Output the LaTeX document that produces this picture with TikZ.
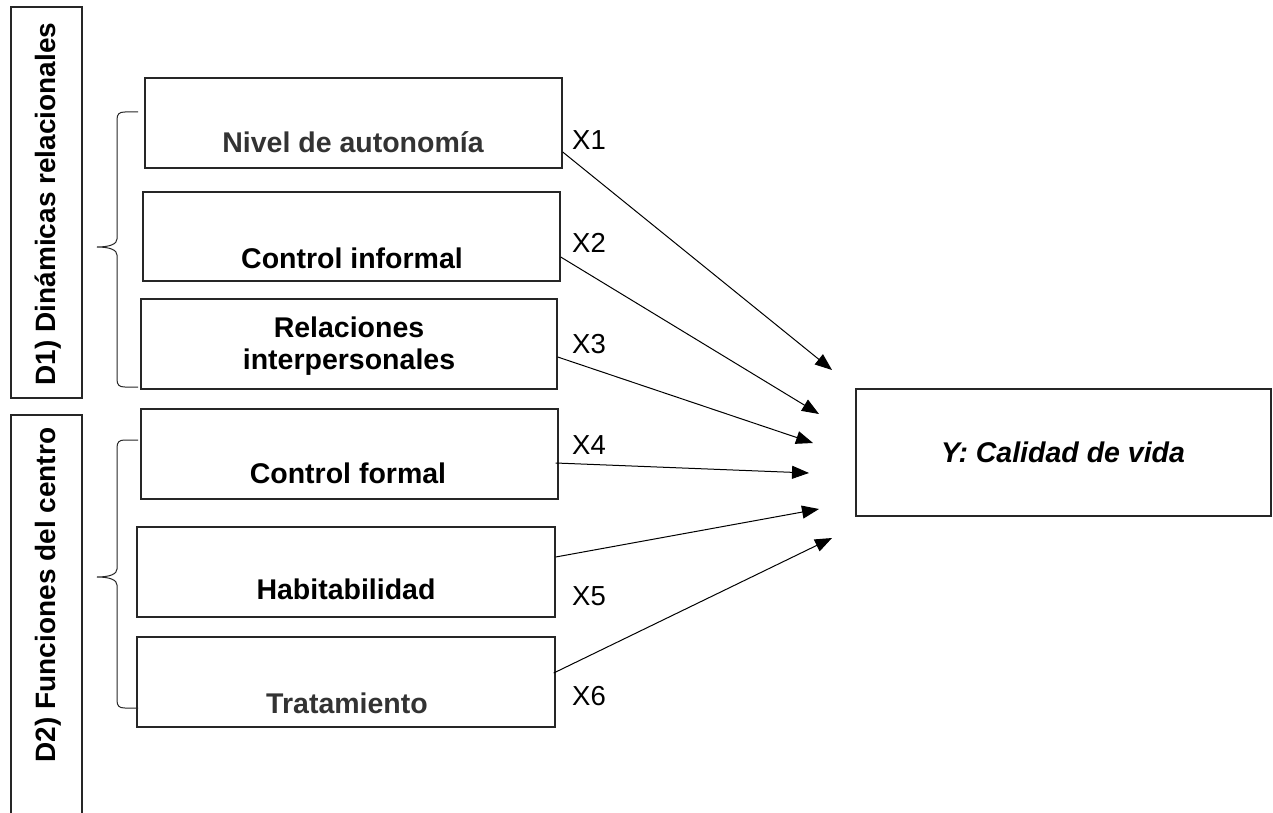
\documentclass[tikz,border=0pt]{standalone}
\usepackage{fontspec}
\setmainfont{Liberation Sans}
\usetikzlibrary{arrows.meta}
\begin{document}
\begin{tikzpicture}[x=1pt,y=-1pt,
  varbox/.style={draw=black!85,line width=1.4pt,rectangle,inner sep=0pt,minimum width=417pt,minimum height=90pt},
  dimbox/.style={draw=black!85,line width=1.4pt},
  boxtext/.style={font=\fontsize{28.5}{32}\selectfont\bfseries,inner sep=0pt,anchor=base,align=center},
  xlabel/.style={font=\fontsize{27.5}{30}\selectfont,inner sep=0pt,anchor=base west},
  dimtext/.style={font=\fontsize{28}{30}\selectfont\bfseries,inner sep=0pt,rotate=90},
  link/.style={line width=1pt,-{Triangle[length=17pt,width=13pt]}},
  bracestyle/.style={line width=1pt,black!85}]
\useasboundingbox (0,0) rectangle (1273,813);

% dimension boxes
\node[dimbox,minimum width=71pt,minimum height=391pt,inner sep=0pt] (d1) at (46.5,202.5) {};
\node[dimtext] (d1t) at (48,204) {D1) Dinámicas relacionales};
\draw[dimbox] (11,830) -- (11,415) -- (82,415) -- (82,830);
\coordinate (d2) at (46.5,600);
\node[dimtext] (d2t) at (48,595) {D2) Funciones del centro};

% braces
\draw[bracestyle] (138,112) -- (125,112) .. controls (119,112) and (117,114) .. (117,120) -- (117,239)
  .. controls (117,244) and (110,247) .. (97,247) .. controls (110,247) and (117,250) .. (117,255)
  -- (117,379) .. controls (117,385) and (119,387) .. (125,387) -- (138,387);
\draw[bracestyle] (138,440) -- (125,440) .. controls (119,440) and (117,442) .. (117,448) -- (117,569)
  .. controls (117,574) and (110,577) .. (97,577) .. controls (110,577) and (117,580) .. (117,585)
  -- (117,700) .. controls (117,706) and (119,708) .. (125,708) -- (138,708);

% variable boxes
\node[varbox] (b1) at (353.5,123) {};
\node[varbox,minimum height=89pt] (b2) at (351.5,236.5) {};
\node[varbox,minimum width=416pt] (b3) at (349,344) {};
\node[varbox] (b4) at (349.5,454) {};
\node[varbox,minimum width=418pt] (b5) at (346,572) {};
\node[varbox,minimum width=418pt] (b6) at (346,682) {};
\node[varbox,minimum width=415pt,minimum height=127pt] (y) at (1063.5,452.5) {};

\node[boxtext,text=black!80] (t1) at (353,153) {Nivel de autonomía};
\node[boxtext] (t2) at (352,268) {Control informal};
\node[boxtext,anchor=center] (t3) at (349,345.8) {Relaciones\\interpersonales};
\node[boxtext] (t4) at (348,483) {Control formal};
\node[boxtext] (t5) at (346,599) {Habitabilidad};
\node[boxtext,text=black!80] (t6) at (347,713) {Tratamiento};
\node[boxtext,font=\fontsize{28.5}{30}\selectfont\bfseries\itshape] (yt) at (1063,462) {Y: Calidad de vida};

% labels
\node[xlabel] (x1) at (572,150) {X1};
\node[xlabel] (x2) at (572,252) {X2};
\node[xlabel] (x3) at (572,353) {X3};
\node[xlabel] (x4) at (572,454) {X4};
\node[xlabel] (x5) at (572,605) {X5};
\node[xlabel] (x6) at (572,705) {X6};

% arrow ends
\coordinate (e1) at (832,370);
\coordinate (e2) at (819,414);
\coordinate (e3) at (813,443);
\coordinate (e4) at (809,473);
\coordinate (e5) at (819,509);
\coordinate (e6) at (832,538);

\draw[link] ([yshift=-29pt]b1.east) -- (e1);
\draw[link] ([yshift=-20.5pt]b2.east) -- (e2);
\draw[link] ([yshift=-13pt]b3.east) -- (e3);
\draw[link] ([yshift=-9pt,xshift=-3pt]b4.east) -- (e4);
\draw[link] ([yshift=15pt]b5.east) -- (e5);
\draw[link] ([yshift=9pt,xshift=-2pt]b6.east) -- (e6);
\end{tikzpicture}
\end{document}
